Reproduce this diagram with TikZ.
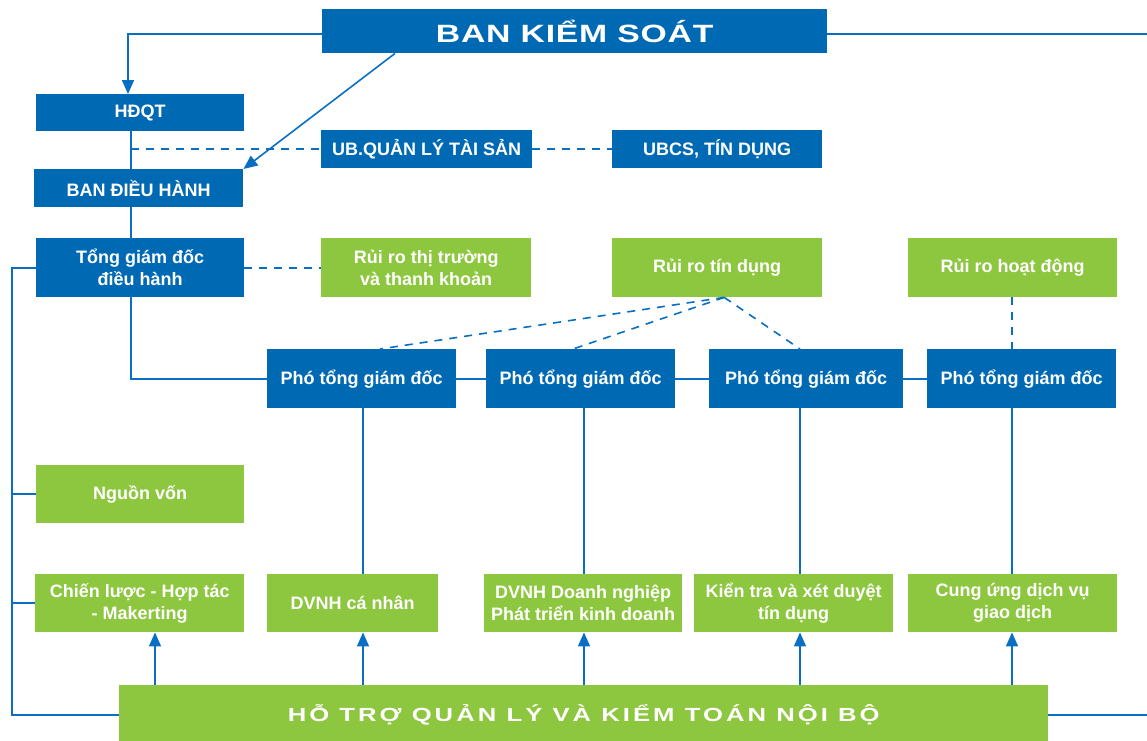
\documentclass[tikz,border=0pt]{standalone}
\usepackage{fontspec}
\setmainfont{Liberation Sans}
\newfontfamily\boxfont{Liberation Sans Bold}
\newfontfamily\widefontB{Liberation Sans Bold}[FakeStretch=1.35,LetterSpace=3]
\newfontfamily\widefontH{Liberation Sans Bold}[FakeStretch=1.35,LetterSpace=16]
\usetikzlibrary{arrows.meta}
\definecolor{bblue}{HTML}{0069B4}
\definecolor{bgreen}{HTML}{8DC63F}
\definecolor{lblue}{HTML}{0A6FC2}
\tikzset{
  base/.style={anchor=north west, inner sep=0pt, text=white, align=center,
    font=\boxfont\fontsize{18}{22}\selectfont},
  bluebox/.style={base, fill=bblue},
  greenbox/.style={base, fill=bgreen},
  conn/.style={draw=lblue, line width=1.6pt},
  dconn/.style={conn, dash pattern=on 8pt off 7pt},
  arr/.style={conn, -{Triangle[width=12pt,length=14pt]}, color=lblue},
}
\begin{document}
\begin{tikzpicture}[x=1pt,y=-1pt]
\useasboundingbox (0,0) rectangle (1147,740);
% boxes
\node[bluebox, minimum width=505, minimum height=44, font=\widefontB\fontsize{25}{28}\selectfont] (bks) at (322,9) {BAN KIỂM SOÁT};
\node[bluebox, minimum width=208, minimum height=37] (hdqt) at (36,94) {HĐQT};
\node[bluebox, minimum width=209, minimum height=38] (bdh) at (34,169) {BAN ĐIỀU HÀNH};
\node[bluebox, minimum width=211, minimum height=38] (ub) at (321,130) {UB.QUẢN LÝ TÀI SẢN};
\node[bluebox, minimum width=210, minimum height=38] (ubcs) at (612,130) {UBCS, TÍN DỤNG};
\node[bluebox, minimum width=208, minimum height=59] (tgd) at (36,238) {Tổng giám đốc\\điều hành};
\node[greenbox, minimum width=210, minimum height=59] (rrtt) at (321,238) {Rủi ro thị trường\\và thanh khoản};
\node[greenbox, minimum width=210, minimum height=59] (rrtd) at (612,238) {Rủi ro tín dụng};
\node[greenbox, minimum width=209, minimum height=59] (rrhd) at (908,238) {Rủi ro hoạt động};
\node[bluebox, minimum width=189, minimum height=59] (p1) at (267,349) {Phó tổng giám đốc};
\node[bluebox, minimum width=189, minimum height=59] (p2) at (486,349) {Phó tổng giám đốc};
\node[bluebox, minimum width=194, minimum height=59] (p3) at (709,349) {Phó tổng giám đốc};
\node[bluebox, minimum width=189, minimum height=59] (p4) at (927,349) {Phó tổng giám đốc};
\node[greenbox, minimum width=208, minimum height=58] (nv) at (36,465) {Nguồn vốn};
\node[greenbox, minimum width=209, minimum height=58] (cl) at (35,574) {Chiến lược - Hợp tác\\- Makerting};
\node[greenbox, minimum width=171, minimum height=58] (cn) at (267,574) {DVNH cá nhân};
\node[greenbox, minimum width=198, minimum height=58] (dn) at (484,574) {DVNH Doanh nghiệp\\Phát triển kinh doanh};
\node[greenbox, minimum width=199, minimum height=58] (kt) at (694,574) {Kiển tra và xét duyệt\\tín dụng};
\node[greenbox, minimum width=209, minimum height=58] (cu) at (908,574) {Cung ứng dịch vụ\\giao dịch};
\node[greenbox, minimum width=929, minimum height=60, font=\widefontH\fontsize{19}{22}\selectfont] (htq) at (119,685) {HỖ TRỢ QUẢN LÝ VÀ KIỂM TOÁN NỘI BỘ};
% helper coordinates
\coordinate (spine) at (131,0);
\coordinate (lft) at (12,0);
\coordinate (rgt) at (1147,0);
\coordinate (a1) at (155,0);
\coordinate (a2) at (363,0);
\coordinate (a3) at (584,0);
\coordinate (a4) at (800,0);
\coordinate (a5) at (1012,0);
\coordinate (apex) at ([xshift=7pt]rrtd.south);
% top connectors
\draw[arr] ([yshift=-3pt]bks.west) -| (hdqt.north -| 128,0);
\draw[conn] ([yshift=-3pt]bks.east) -- ([yshift=-3pt]bks.east -| rgt);
\draw[arr] ([xshift=73pt]bks.south west) -- (bdh.north east);
% spine
\draw[conn] (hdqt.south -| spine) -- (bdh.north -| spine);
\draw[conn] (bdh.south -| spine) -- (tgd.north -| spine);
\draw[conn] (tgd.south -| spine) |- (p1.west);
\draw[dconn] (ub.west -| spine) -- (ub.west);
\draw[dconn] (ub.east) -- (ubcs.west);
\draw[dconn] (tgd.east) -- (rrtt.west);
% vice directors chain
\draw[conn] (p1.east) -- (p2.west);
\draw[conn] (p2.east) -- (p3.west);
\draw[conn] (p3.east) -- (p4.west);
% risk dashed
\draw[dconn] (apex) -- (p1.north -| 380,0);
\draw[dconn] (apex) -- (p2.north -| 573,0);
\draw[dconn] (apex) -- (p3.north -| 800,0);
\draw[dconn] (rrhd.south -| a5) -- (p4.north -| a5);
% verticals down
\draw[conn] (p1.south -| a2) -- (cn.north -| a2);
\draw[conn] (p2.south -| a3) -- (dn.north -| a3);
\draw[conn] (p3.south -| a4) -- (kt.north -| a4);
\draw[conn] (p4.south -| a5) -- (cu.north -| a5);
% left bus
\draw[conn] (tgd.west) -- (tgd.west -| lft) -- (htq.west -| lft) -- (htq.west);
\draw[conn] (nv.west -| lft) -- (nv.west);
\draw[conn] (cl.west -| lft) -- (cl.west);
\draw[conn] (htq.east) -- (htq.east -| rgt);
% arrows up
\draw[arr] (htq.north -| a1) -- (cl.south -| a1);
\draw[arr] (htq.north -| a2) -- (cn.south -| a2);
\draw[arr] (htq.north -| a3) -- (dn.south -| a3);
\draw[arr] (htq.north -| a4) -- (kt.south -| a4);
\draw[arr] (htq.north -| a5) -- (cu.south -| a5);
\end{tikzpicture}
\end{document}
